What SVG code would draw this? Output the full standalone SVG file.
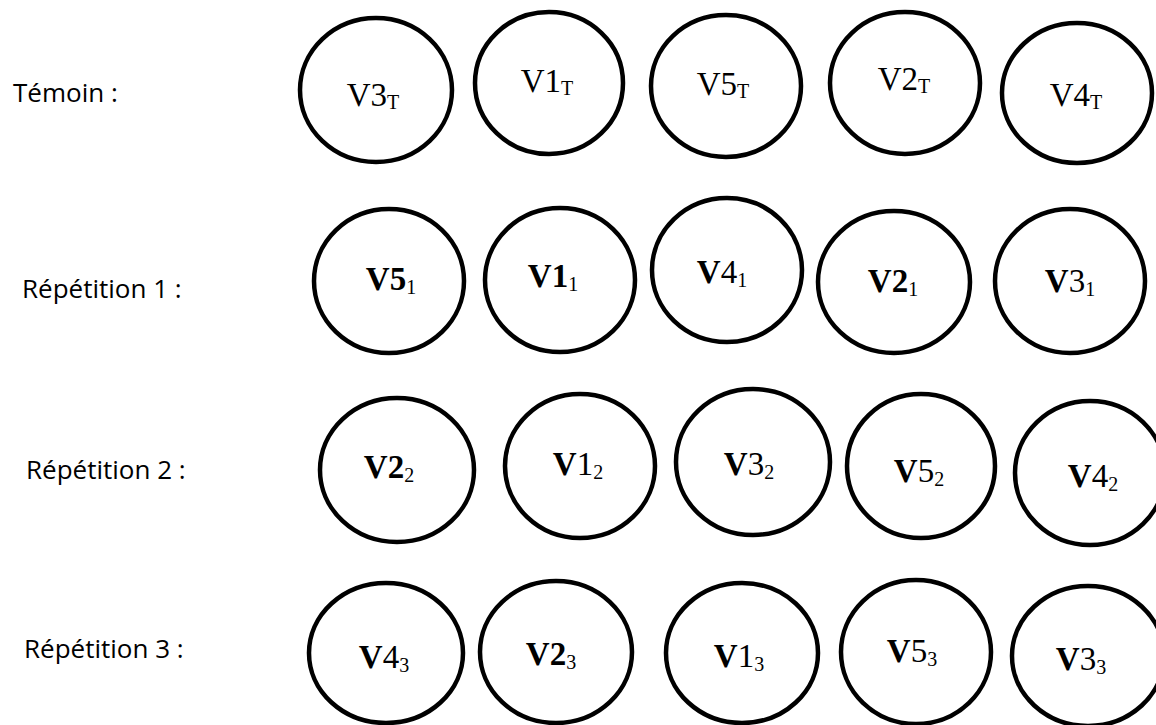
<svg xmlns="http://www.w3.org/2000/svg" width="1156" height="725" viewBox="0 0 1156 725">
<style>
.c{fill:#fff;stroke:#000;stroke-width:4.5}
.lbl{font-family:"Open Sans","Noto Sans",sans-serif;font-size:26px;fill:#000}
.v{font-family:"Liberation Serif","Times New Roman",serif;font-size:33px;fill:#000;text-anchor:middle}
.b{font-weight:bold}
.s{font-size:20px;font-weight:normal}
</style>
<rect width="1156" height="725" fill="#fff"/>
<g id="row-labels">
<text class="lbl" x="13" y="102">Témoin :</text>
<text class="lbl" x="22" y="298">Répétition 1 :</text>
<text class="lbl" x="26" y="479">Répétition 2 :</text>
<text class="lbl" x="24" y="658">Répétition 3 :</text>
</g>
<g id="connectors"/>
<g id="V3T"><ellipse class="c" cx="376" cy="90" rx="76" ry="72"/><text class="v" x="373" y="106">V3<tspan class="s" dy="3">T</tspan></text></g>
<g id="V1T"><ellipse class="c" cx="549" cy="83" rx="74" ry="71"/><text class="v" x="547" y="92">V1<tspan class="s" dy="3">T</tspan></text></g>
<g id="V5T"><ellipse class="c" cx="726" cy="86" rx="75" ry="71"/><text class="v" x="723" y="95">V5<tspan class="s" dy="3">T</tspan></text></g>
<g id="V2T"><ellipse class="c" cx="905" cy="83" rx="75" ry="71"/><text class="v" x="904" y="90">V2<tspan class="s" dy="3">T</tspan></text></g>
<g id="V4T"><ellipse class="c" cx="1077" cy="93" rx="75" ry="70"/><text class="v" x="1076" y="106">V4<tspan class="s" dy="3">T</tspan></text></g>

<g id="V5_1"><ellipse class="c" cx="389" cy="281" rx="75" ry="72"/><text class="v" x="391" y="290"><tspan class="b">V5</tspan><tspan class="s" dy="4">1</tspan></text></g>
<g id="V1_1"><ellipse class="c" cx="560" cy="280" rx="75" ry="72"/><text class="v" x="553" y="287"><tspan class="b">V1</tspan><tspan class="s" dy="4">1</tspan></text></g>
<g id="V4_1"><ellipse class="c" cx="727" cy="270" rx="75" ry="72"/><text class="v" x="722" y="283"><tspan class="b">V</tspan>4<tspan class="s" dy="4">1</tspan></text></g>
<g id="V2_1"><ellipse class="c" cx="894" cy="282" rx="76" ry="71"/><text class="v" x="893" y="292"><tspan class="b">V2</tspan><tspan class="s" dy="4">1</tspan></text></g>
<g id="V3_1"><ellipse class="c" cx="1070" cy="281" rx="75" ry="72"/><text class="v" x="1070" y="292"><tspan class="b">V</tspan>3<tspan class="s" dy="4">1</tspan></text></g>

<g id="V2_2"><ellipse class="c" cx="397" cy="470" rx="77" ry="72"/><text class="v" x="389" y="478"><tspan class="b">V2</tspan><tspan class="s" dy="4">2</tspan></text></g>
<g id="V1_2"><ellipse class="c" cx="580" cy="466" rx="75" ry="72"/><text class="v" x="578" y="475"><tspan class="b">V</tspan>1<tspan class="s" dy="4">2</tspan></text></g>
<g id="V3_2"><ellipse class="c" cx="753" cy="462" rx="77" ry="73"/><text class="v" x="749" y="475"><tspan class="b">V</tspan>3<tspan class="s" dy="4">2</tspan></text></g>
<g id="V5_2"><ellipse class="c" cx="921" cy="466" rx="74" ry="72"/><text class="v" x="919" y="482"><tspan class="b">V</tspan>5<tspan class="s" dy="4">2</tspan></text></g>
<g id="V4_2"><ellipse class="c" cx="1090" cy="473" rx="75" ry="72"/><text class="v" x="1093" y="487"><tspan class="b">V</tspan>4<tspan class="s" dy="4">2</tspan></text></g>

<g id="V4_3"><ellipse class="c" cx="386" cy="653" rx="77" ry="70"/><text class="v" x="384" y="668"><tspan class="b">V</tspan>4<tspan class="s" dy="4">3</tspan></text></g>
<g id="V2_3"><ellipse class="c" cx="556" cy="652" rx="76" ry="71"/><text class="v" x="551" y="665"><tspan class="b">V2</tspan><tspan class="s" dy="4">3</tspan></text></g>
<g id="V1_3"><ellipse class="c" cx="742" cy="653" rx="76" ry="70"/><text class="v" x="739" y="667"><tspan class="b">V</tspan>1<tspan class="s" dy="4">3</tspan></text></g>
<g id="V5_3"><ellipse class="c" cx="916" cy="652" rx="75" ry="72"/><text class="v" x="912" y="662"><tspan class="b">V</tspan>5<tspan class="s" dy="4">3</tspan></text></g>
<g id="V3_3"><ellipse class="c" cx="1088" cy="656" rx="76" ry="70"/><text class="v" x="1081" y="670"><tspan class="b">V</tspan>3<tspan class="s" dy="4">3</tspan></text></g>
</svg>
